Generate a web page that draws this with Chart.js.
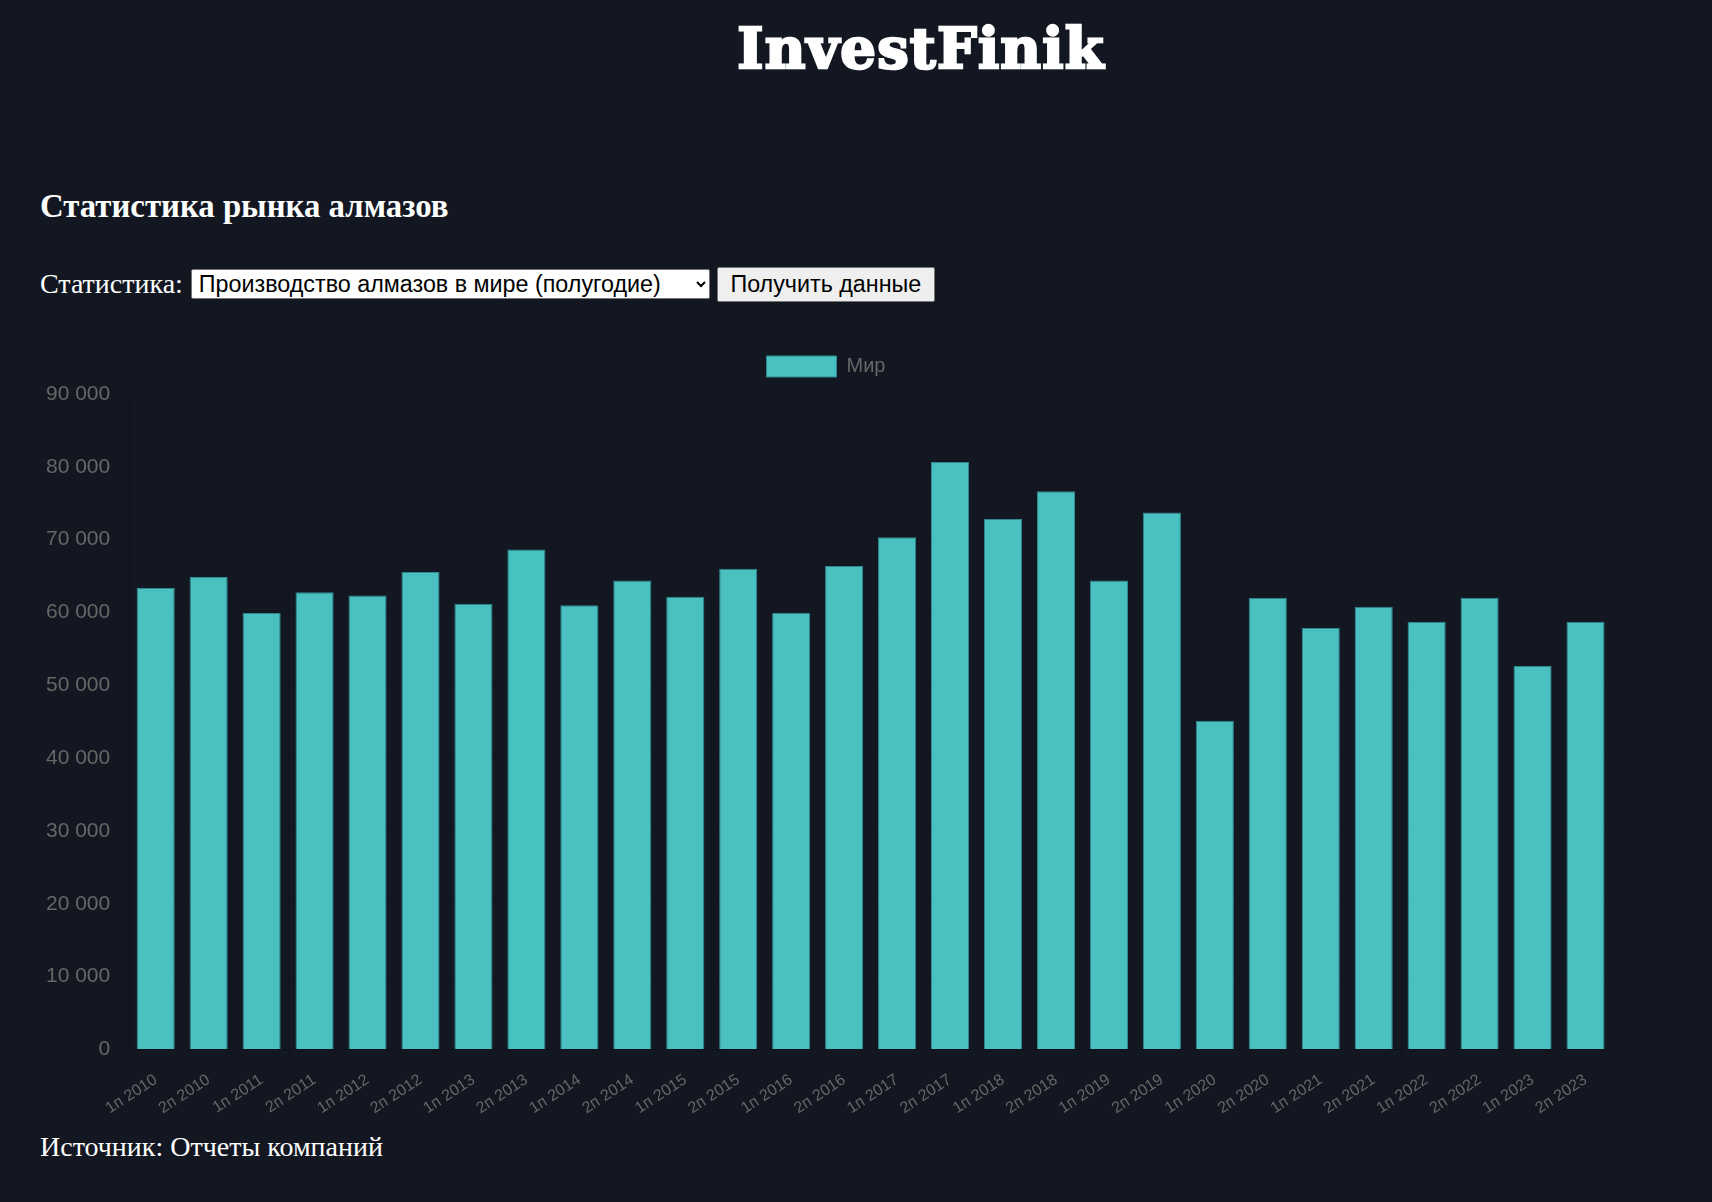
<!DOCTYPE html>
<html lang="ru">
<head>
<meta charset="utf-8">
<title>InvestFinik</title>
<script src="https://cdn.jsdelivr.net/npm/chart.js"></script>
<style>
  body { margin: 0; background: #131722; color: #fff; font-family: "Liberation Serif", "Times New Roman", serif; width: 1712px; height: 1202px; position: relative; overflow: hidden; }
  .logo { position: absolute; top: 20px; left: 0; width: 1842px; text-align: center; font-family: "DejaVu Serif", serif; font-weight: bold; font-size: 56px; line-height: 1; -webkit-text-stroke: 2.5px #fff; letter-spacing: 1.2px; }
  h2 { position: absolute; margin: 0; left: 40px; top: 190px; font-size: 32.8px; line-height: 1; }
  .controls { position: absolute; left: 40px; top: 267px; height: 34px; display: flex; align-items: center; font-size: 28px; }
  select { margin-left: 8px; width: 519px; height: 30px; font-family: "Liberation Sans", Arial, sans-serif; font-size: 23.3px; background: #fff; color: #000; border: 1px solid #767676; border-radius: 2px; padding: 0 3px; }
  button { margin-left: 7px; width: 218px; height: 35px; font-family: "Liberation Sans", Arial, sans-serif; font-size: 23.3px; background: #efefef; color: #000; border: 1px solid #767676; border-radius: 2px; padding: 0; }
  .chart-box { position: absolute; left: 40px; top: 346px; width: 1572px; height: 780px; }
  .source { position: absolute; left: 40px; top: 1133px; font-size: 28px; line-height: 1; }
</style>
</head>
<body>
<div class="logo">InvestFinik</div>
<h2>Статистика рынка алмазов</h2>
<div class="controls">
  <span>Статистика:</span>
  <select><option>Производство алмазов в мире (полугодие)</option></select>
  <button>Получить данные</button>
</div>
<div class="chart-box"><canvas id="myBarChart"></canvas></div>
<div class="source">Источник: Отчеты компаний</div>

<script>
// периоды (полугодия)
var periods = [
  '1п 2010', '2п 2010', '1п 2011', '2п 2011', '1п 2012', '2п 2012', '1п 2013',
  '2п 2013', '1п 2014', '2п 2014', '1п 2015', '2п 2015', '1п 2016', '2п 2016',
  '1п 2017', '2п 2017', '1п 2018', '2п 2018', '1п 2019', '2п 2019', '1п 2020',
  '2п 2020', '1п 2021', '2п 2021', '1п 2022', '2п 2022', '1п 2023', '2п 2023'
];

// производство алмазов в мире, тыс. карат
var worldValues = [
  63370, 64880, 59930, 62770, 62350, 65570, 61210,
  68634, 60980, 64410, 62170, 66020, 59980, 66390,
  70320, 80680, 72850, 76640, 64410, 73720, 45140,
  62040, 57870, 60800, 58740, 62040, 52690, 58740
];

var seriesName = 'Мир';
var yTicksMax = 90000;
var yTicksStep = 10000;

// небольшой отступ под легендой
var legendMargin = {
    id: 'legendMargin',
    beforeInit: function(chart) {
        var origFit = chart.legend.fit;
        chart.legend.fit = function() {
            origFit.bind(chart.legend)();
            this.height += 7;
        };
    }
};

var ctx = document.getElementById('myBarChart').getContext('2d');
var myBarChart = new Chart(ctx, {
    type: 'bar',
    data: {
        labels: periods,
        datasets: [{
            label: seriesName,
            data: worldValues,
            backgroundColor: 'rgb(75, 192, 192)',
            borderColor: 'rgb(45, 140, 143)',
            borderWidth: 1,
            hoverBackgroundColor: 'rgb(70, 195, 193)',
            hoverBorderColor: 'rgb(45, 140, 143)'
        }]
    },
    plugins: [legendMargin],
    options: {
        responsive: true,
        maintainAspectRatio: false,
        animation: false,
        locale: 'ru-RU',
        plugins: {
            legend: {
                position: 'top',
                labels: {
                    color: '#666',
                    boxWidth: 70,
                    boxHeight: 21,
                    font: { size: 20 }
                }
            },
            tooltip: { enabled: false }
        },
        scales: {
            x: {
                grid: { tickLength: 13 },
                ticks: {
                    color: '#666',
                    padding: 8,
                    font: { size: 16 },
                    minRotation: 33,
                    maxRotation: 33
                }
            },
            y: {
                min: 0,
                max: yTicksMax,
                grid: { tickLength: 13 },
                ticks: {
                    stepSize: yTicksStep,
                    color: '#666',
                    padding: 6,
                    font: { size: 21 }
                }
            }
        }
    }
});

// бар под курсором (2п 2013)
myBarChart.setActiveElements([{ datasetIndex: 0, index: 7 }]);
myBarChart.render();
</script>
</body>
</html>
